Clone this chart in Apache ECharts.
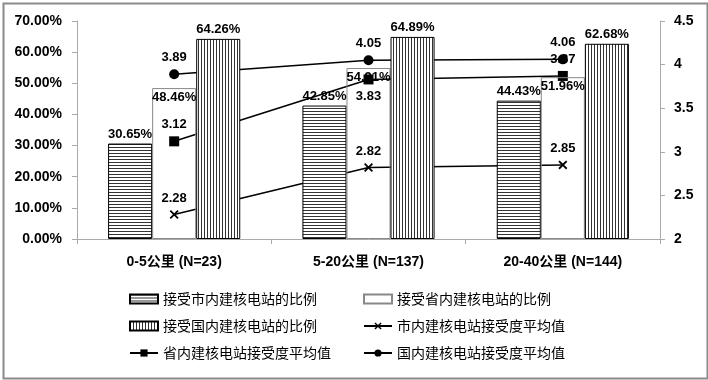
<!DOCTYPE html>
<html>
<head>
<meta charset="utf-8">
<script src="https://cdn.jsdelivr.net/npm/echarts@6/dist/echarts.min.js"></script>
<style>
  html, body { margin: 0; padding: 0; background: #fff; }
  #main { width: 708px; height: 380px; }
</style>
</head>
<body>
<div id="main"></div>
<script>
var categories = ['0-5公里 (N=23)', '5-20公里 (N=137)', '20-40公里 (N=144)'];
var cityRatio = [30.65, 42.85, 44.43];
var provRatio = [48.46, 54.91, 51.96];
var natRatio = [64.26, 64.89, 62.68];
var cityMean = [2.28, 2.82, 2.85];
var provMean = [3.12, 3.83, 3.87];
var natMean = [3.89, 4.05, 4.06];
var provMeanLabelPos = ['top', 'bottom', 'top'];

var latin = '"Liberation Sans", Arial, "Noto Sans CJK SC", sans-serif';
var cjk = '"Noto Sans CJK SC", "Liberation Sans", sans-serif';

// stripe fill for the bars
function stripes(horizontal) {
    var c = document.createElement('canvas');
    c.width = 3; c.height = 3;
    var ctx = c.getContext('2d');
    ctx.fillStyle = '#fff';
    ctx.fillRect(0, 0, 3, 3);
    ctx.fillStyle = '#333';
    if (horizontal) ctx.fillRect(0, 0, 3, 1);
    else ctx.fillRect(0, 0, 1, 3);
    return c;
}

var crossPath = 'path://M0,1.4L1.4,0L5,3.6L8.6,0L10,1.4L6.4,5L10,8.6L8.6,10L5,6.4L1.4,10L0,8.6L3.6,5Z';

var barLabel = { show: true, color: '#000', fontFamily: latin, fontWeight: 'bold', fontSize: 13,
    formatter: function (p) { return p.value.toFixed(2) + '%'; } };
var lineLabel = { show: true, position: 'top', color: '#000', fontFamily: latin, fontWeight: 'bold', fontSize: 13,
    formatter: function (p) { return p.value.toFixed(2); } };

var myChart = echarts.init(document.getElementById('main'));

var option = {
    animation: false,
    backgroundColor: '#fff',
    graphic: [{
        type: 'rect', left: 1, top: 1,
        shape: { width: 704, height: 375 },
        style: { fill: 'none', stroke: '#8a8a8a', lineWidth: 2 }
    }],
    grid: { left: 77, right: 48, top: 21, bottom: 141 },
    legend: [{
        orient: 'vertical', left: 124, top: 287, itemGap: 13,
        itemWidth: 28, itemHeight: 9,
        textStyle: { fontFamily: cjk, fontSize: 14, color: '#000' },
        data: [{ name: '接受市内建核电站的比例', icon: 'rect' },
               { name: '接受国内建核电站的比例', icon: 'rect' },
               '省内建核电站接受度平均值']
    }, {
        orient: 'vertical', left: 358, top: 287, itemGap: 13,
        itemWidth: 28, itemHeight: 9,
        textStyle: { fontFamily: cjk, fontSize: 14, color: '#000' },
        data: [{ name: '接受省内建核电站的比例', icon: 'rect' },
               '市内建核电站接受度平均值', '国内建核电站接受度平均值']
    }],
    xAxis: {
        type: 'category',
        data: categories,
        axisLine: { lineStyle: { color: '#aaa' } },
        axisTick: { show: true, length: 5, lineStyle: { color: '#aaa' } },
        axisLabel: { color: '#000', fontFamily: latin, fontWeight: 'bold', fontSize: 14, margin: 16 }
    },
    yAxis: [{
        type: 'value', min: 0, max: 70, interval: 10,
        axisLine: { show: true, lineStyle: { color: '#aaa' } },
        axisTick: { show: true, length: 5, lineStyle: { color: '#aaa' } },
        splitLine: { show: false },
        axisLabel: { color: '#000', fontFamily: latin, fontWeight: 'bold', fontSize: 14, margin: 15,
            formatter: function (v) { return v.toFixed(2) + '%'; } }
    }, {
        type: 'value', min: 2, max: 4.5, interval: 0.5,
        axisLine: { show: true, lineStyle: { color: '#aaa' } },
        axisTick: { show: true, length: 5, lineStyle: { color: '#aaa' } },
        splitLine: { show: false },
        axisLabel: { color: '#000', fontFamily: latin, fontWeight: 'bold', fontSize: 14, margin: 14 }
    }],
    series: [{
        name: '接受市内建核电站的比例',
        type: 'bar', barGap: '0%', barCategoryGap: '32%', z: 5,
        data: cityRatio,
        itemStyle: { color: { image: stripes(true), repeat: 'repeat' }, borderColor: '#000', borderWidth: 1 },
        label: Object.assign({}, barLabel, { position: 'top', distance: 3 })
    }, {
        name: '接受省内建核电站的比例',
        type: 'bar', barGap: '0%', barCategoryGap: '32%', z: 5,
        data: provRatio,
        itemStyle: { color: 'rgba(255,255,255,0)', borderColor: '#888', borderWidth: 1 },
        label: Object.assign({}, barLabel, { position: 'insideTop', distance: 3 })
    }, {
        name: '接受国内建核电站的比例',
        type: 'bar', barGap: '0%', barCategoryGap: '32%', z: 5,
        data: natRatio,
        itemStyle: { color: { image: stripes(false), repeat: 'repeat' }, borderColor: '#000', borderWidth: 1 },
        label: Object.assign({}, barLabel, { position: 'top', distance: 3 })
    }, {
        name: '市内建核电站接受度平均值',
        type: 'line', yAxisIndex: 1, z: 3,
        data: cityMean,
        symbol: crossPath, symbolSize: 9,
        lineStyle: { color: '#000', width: 1.5 },
        itemStyle: { color: '#000' },
        label: lineLabel
    }, {
        name: '省内建核电站接受度平均值',
        type: 'line', yAxisIndex: 1, z: 3,
        data: provMean.map(function (v, i) {
            return { value: v, label: { position: provMeanLabelPos[i] } };
        }),
        symbol: 'rect', symbolSize: 10,
        lineStyle: { color: '#000', width: 1.5 },
        itemStyle: { color: '#000' },
        label: lineLabel
    }, {
        name: '国内建核电站接受度平均值',
        type: 'line', yAxisIndex: 1, z: 3,
        data: natMean,
        symbol: 'circle', symbolSize: 10,
        lineStyle: { color: '#000', width: 1.5 },
        itemStyle: { color: '#000' },
        label: lineLabel
    }]
};

myChart.setOption(option);
</script>
</body>
</html>
